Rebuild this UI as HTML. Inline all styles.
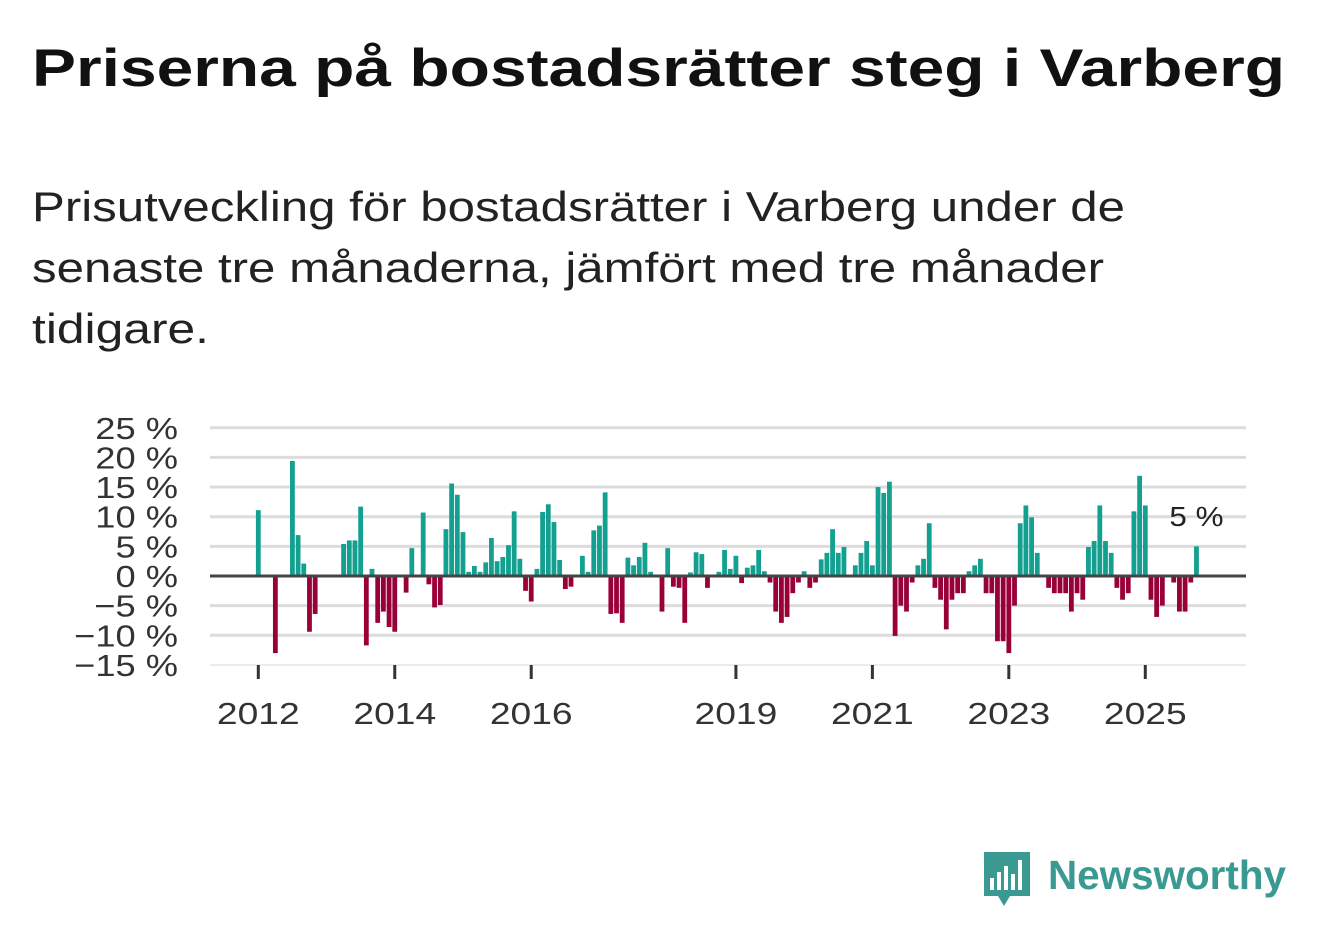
<!DOCTYPE html>
<html><head><meta charset="utf-8">
<style>
body{margin:0;width:1322px;height:939px;background:#fff;font-family:"Liberation Sans",sans-serif;overflow:hidden;position:relative}
.t{position:absolute;left:32px;margin:0;white-space:nowrap;transform-origin:0 0;display:inline-block}
#title{top:38px;font-size:53px;font-weight:bold;color:#111}
.sub{font-size:42px;color:#222}
svg{position:absolute;left:0;top:0}
</style></head><body>
<span id="title" class="t" data-w="1253">Priserna på bostadsrätter steg i Varberg</span>
<span class="t sub" style="top:183px" data-w="1093">Prisutveckling för bostadsrätter i Varberg under de</span>
<span class="t sub" style="top:244px" data-w="1072">senaste tre månaderna, jämfört med tre månader</span>
<span class="t sub" style="top:305px" data-w="177">tidigare.</span>
<svg id="chart" width="1322" height="939"></svg>
<svg width="1322" height="939">
<path d="M984 852h46v44h-20l-6 10-6-10h-14z" fill="#3a9a91"/>
<rect x="990" y="878" width="4" height="12" fill="#fff"/><rect x="997" y="872" width="4" height="18" fill="#fff"/><rect x="1004" y="866" width="4" height="24" fill="#fff"/><rect x="1011" y="874" width="4" height="16" fill="#fff"/><rect x="1018" y="860" width="4" height="30" fill="#fff"/>
<text x="1048" y="889" font-size="41" font-weight="bold" fill="#3a9a91" font-family="Liberation Sans, sans-serif" textLength="238" lengthAdjust="spacingAndGlyphs">Newsworthy</text>
</svg>
<script>
const yTicks=[25,20,15,10,5,0,-5,-10,-15];
const yTickLabels=["25 %","20 %","15 %","10 %","5 %","0 %","−5 %","−10 %","−15 %"];
const xYears=[2012,2014,2016,2019,2021,2023,2025];
const startYear=2012;
const valueLookup={0:11.1,3:-13,6:19.4,7:6.9,8:2.1,9:-9.4,10:-6.4,15:5.4,16:6,17:6,18:11.7,19:-11.7,20:1.2,21:-7.9,22:-6,23:-8.6,24:-9.4,26:-2.8,27:4.7,29:10.7,30:-1.4,31:-5.3,32:-4.9,33:7.9,34:15.6,35:13.7,36:7.4,37:0.7,38:1.7,39:0.7,40:2.3,41:6.4,42:2.5,43:3.2,44:5.2,45:10.9,46:2.9,47:-2.5,48:-4.3,49:1.2,50:10.8,51:12.1,52:9.1,53:2.7,54:-2.2,55:-1.8,57:3.4,58:0.7,59:7.7,60:8.5,61:14.1,62:-6.4,63:-6.3,64:-7.9,65:3.1,66:1.8,67:3.2,68:5.6,69:0.7,71:-6,72:4.7,73:-1.8,74:-2,75:-7.9,76:0.6,77:4,78:3.7,79:-2,81:0.7,82:4.4,83:1.2,84:3.4,85:-1.2,86:1.4,87:1.8,88:4.4,89:0.8,90:-1.1,91:-6,92:-7.9,93:-6.9,94:-2.9,95:-1.1,96:0.8,97:-2,98:-1.1,99:2.8,100:3.9,101:7.9,102:3.9,103:4.9,105:1.8,106:3.9,107:5.9,108:1.8,109:15,110:14,111:15.9,112:-10.1,113:-5,114:-6,115:-1.1,116:1.8,117:2.9,118:8.9,119:-2,120:-4,121:-9,122:-4,123:-2.9,124:-2.9,125:0.8,126:1.8,127:2.9,128:-2.9,129:-2.9,130:-11,131:-11,132:-13,133:-5,134:8.9,135:11.9,136:9.9,137:3.9,139:-2,140:-2.9,141:-2.9,142:-2.9,143:-6,144:-2.9,145:-4,146:4.9,147:5.9,148:11.9,149:5.9,150:3.9,151:-2,152:-4,153:-2.9,154:10.9,155:16.9,156:11.9,157:-4,158:-6.9,159:-5,161:-1.1,162:-6,163:-6,164:-1.1,165:5};
const nMonths=166;
const values=[];for(let i=0;i<nMonths;i++)values.push(valueLookup[i]||0);

document.querySelectorAll('.t').forEach(el=>{
  const w=el.getBoundingClientRect().width;
  el.style.transform='scaleX('+(+el.dataset.w/w)+')';
});

const svg=document.getElementById('chart');
const NS='http://www.w3.org/2000/svg';
const y=v=>576-v*5.93;
const x=m=>258.3+m*(68.23/12);
function mk(t,a){const e=document.createElementNS(NS,t);for(const k in a)e.setAttribute(k,a[k]);svg.appendChild(e);return e;}
function widen(t,f){const L=t.getComputedTextLength();t.setAttribute('textLength',L*f);t.setAttribute('lengthAdjust','spacingAndGlyphs');}
yTicks.forEach((v,i)=>{
  if(v!==0){const g=mk('line',{x1:210,x2:1246,y1:y(v),y2:y(v),stroke:v===-15?'#e6e6e6':'#dcdcdc','stroke-width':v===-15?1.5:3});
  
  }
  const t=mk('text',{x:178,y:y(v)+11,'text-anchor':'end','font-size':31,fill:'#333'});
  t.textContent=yTickLabels[i];
  
  
  widen(t,1.17);
});
values.forEach((v,i)=>{
  if(v===0)return;
  const r=mk('rect',{x:x(i)-2.4,width:4.8,y:v>0?y(v):576,height:Math.abs(y(v)-576),fill:v>0?'#13a090':'#990038'});
  
  
});
const z=mk('line',{x1:210,x2:1246,y1:576,y2:576,stroke:'#444','stroke-width':3});


xYears.forEach(yr=>{
  const xx=x((yr-startYear)*12);
  const tk=mk('line',{x1:xx,x2:xx,y1:665,y2:679,stroke:'#333','stroke-width':3});
  
  
  const t=mk('text',{x:xx,y:724,'text-anchor':'middle','font-size':31,fill:'#333'});
  t.textContent=yr;
  
  
  widen(t,1.2);
});
const last=nMonths-1;
const lb=mk('text',{x:x(last),y:526,'text-anchor':'middle','font-size':28,fill:'#222'});
lb.textContent=values[last]+' %';


widen(lb,1.12);
</script>
</body></html>
